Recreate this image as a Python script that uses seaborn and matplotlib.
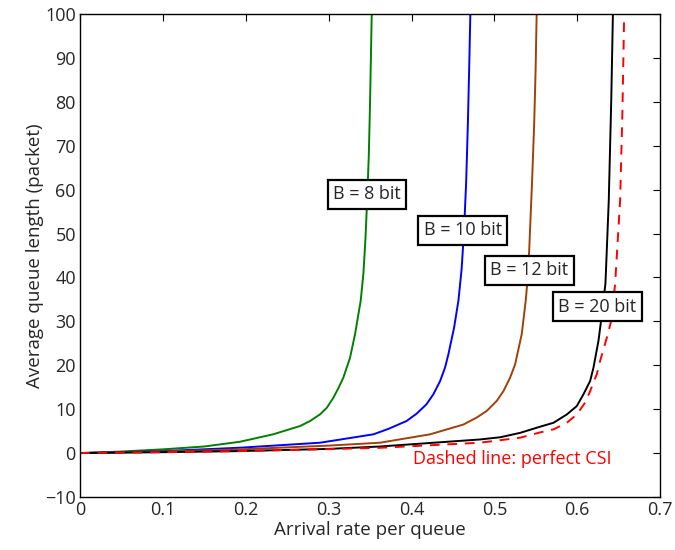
import matplotlib
matplotlib.use("Agg")
import matplotlib.pyplot as plt
import seaborn as sns
import pandas as pd

# Data
b8_x = [0.0, 0.05, 0.10, 0.15, 0.193, 0.233, 0.2655, 0.2776, 0.2897, 0.2977, 0.3057, 0.3118,
        0.3178, 0.3258, 0.3319, 0.3359, 0.3387, 0.342, 0.3445, 0.3467, 0.3485, 0.350, 0.351, 0.352]
b8_y = [0.0, 0.35, 0.85, 1.5, 2.58, 4.27, 6.16, 7.3, 8.83, 10.3, 12.6, 14.8,
        17.2, 21.7, 27.1, 31.6, 34.7, 41.0, 49.0, 58.7, 68.0, 80.0, 90.0, 100.0]

b10_x = [0.0, 0.10, 0.193, 0.2897, 0.354, 0.372, 0.394, 0.4063, 0.418, 0.4264, 0.4345, 0.4405,
         0.4445, 0.4514, 0.4566, 0.4605, 0.4634, 0.466, 0.468, 0.4695, 0.471]
b10_y = [0.0, 0.45, 1.22, 2.36, 4.27, 5.5, 7.3, 9.0, 11.1, 13.4, 16.4, 19.5,
         22.5, 28.6, 34.7, 42.0, 50.7, 62.0, 75.0, 87.0, 100.0]

b12_x = [0.0, 0.10, 0.193, 0.30, 0.362, 0.4224, 0.4626, 0.4787, 0.4908, 0.5029, 0.5109, 0.519,
         0.525, 0.533, 0.5378, 0.541, 0.543, 0.5455, 0.548, 0.5497, 0.551]
b12_y = [0.0, 0.35, 0.84, 1.7, 2.36, 4.27, 6.5, 8.1, 9.6, 11.9, 14.1, 17.2,
         20.2, 27.1, 34.7, 41.6, 50.7, 62.0, 75.0, 87.0, 100.0]

b20_x = [0.0, 0.10, 0.193, 0.30, 0.362, 0.4827, 0.5069, 0.531, 0.555, 0.5713, 0.5874, 0.5994,
         0.6075, 0.6155, 0.6196, 0.6256, 0.6284, 0.634, 0.638, 0.641, 0.643]
b20_y = [0.0, 0.2, 0.45, 0.95, 1.5, 3.1, 3.6, 4.6, 6.0, 6.9, 8.8, 10.7,
         13.4, 16.4, 19.5, 25.6, 29.7, 38.6, 57.5, 80.4, 100.0]

csi_x = [0.0, 0.10, 0.193, 0.30, 0.362, 0.4827, 0.531, 0.555, 0.5713, 0.5874, 0.5994, 0.6095,
         0.6155, 0.6236, 0.6276, 0.6357, 0.6409, 0.6457, 0.6517, 0.6545, 0.6565]
csi_y = [0.0, 0.2, 0.45, 0.9, 1.2, 2.36, 3.5, 4.7, 5.4, 6.9, 8.8, 11.5,
         14.1, 18.0, 21.0, 26.3, 30.1, 38.6, 57.5, 78.0, 99.0]

series_names = ["B = 8 bit", "B = 10 bit", "B = 12 bit", "B = 20 bit", "perfect CSI"]
series_colors = ["#008000", "#0000ff", "#a0400a", "#000000", "#ff0000"]

label_pos_x = [0.3465, 0.462, 0.542, 0.624]
label_pos_y = [58.9, 50.7, 41.6, 33.3]

x_ticks = [0, 0.1, 0.2, 0.3, 0.4, 0.5, 0.6, 0.7]
x_tick_labels = ["0", "0.1", "0.2", "0.3", "0.4", "0.5", "0.6", "0.7"]
y_ticks = [-10, 0, 10, 20, 30, 40, 50, 60, 70, 80, 90, 100]

frames = []
for name, xs, ys in zip(series_names, [b8_x, b10_x, b12_x, b20_x, csi_x],
                        [b8_y, b10_y, b12_y, b20_y, csi_y]):
    frames.append(pd.DataFrame({"x": xs, "y": ys, "series": name}))
df = pd.concat(frames, ignore_index=True)

sns.set_theme(style="white")
plt.rcParams["font.family"] = ["Open Sans", "DejaVu Sans"]

fig = plt.figure(figsize=(6.75, 5.5), dpi=100)
ax = fig.add_axes([0.1185, 0.0964, 0.8595, 0.8781])

palette = dict(zip(series_names, series_colors))
dashes = {n: "" for n in series_names}
dashes["perfect CSI"] = (5, 4)
sns.lineplot(data=df, x="x", y="y", hue="series", style="series",
             palette=palette, dashes=dashes, sort=False, estimator=None,
             linewidth=1.4, ax=ax, legend=False)

ax.set_xlim(0, 0.7)
ax.set_ylim(-10, 100)
ax.set_xticks(x_ticks)
ax.set_xticklabels(x_tick_labels)
ax.set_yticks(y_ticks)
ax.set_xlabel("Arrival rate per queue", fontsize=13.5, labelpad=1)
ax.set_ylabel("Average queue length (packet)", fontsize=13.5, labelpad=1)
ax.tick_params(axis="both", which="both", direction="in", top=True, right=True,
               length=5, width=0.8, labelsize=13, color="black", pad=3)
for sp in ax.spines.values():
    sp.set_color("black")
    sp.set_linewidth(1.0)

for name, lx, ly in zip(series_names[:4], label_pos_x, label_pos_y):
    ax.text(lx, ly, name, fontsize=13, ha="center", va="center",
            bbox=dict(boxstyle="square,pad=0.3", facecolor="white",
                      edgecolor="black", linewidth=1.6))

ax.text(0.402, -1.4, "Dashed line: perfect CSI", color="#ff0000", fontsize=13,
        ha="left", va="center")

fig.savefig("out.png", dpi=100)
